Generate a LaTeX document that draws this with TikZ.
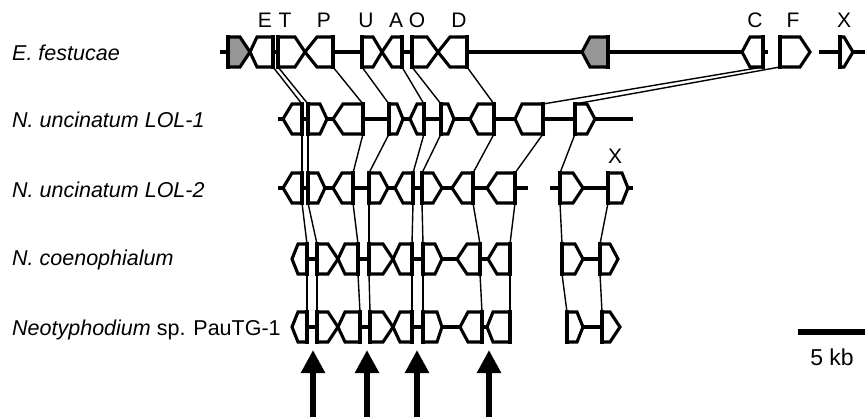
\documentclass[tikz,border=0pt]{standalone}
\usepackage{fontspec}
\setmainfont{Liberation Sans}
\usetikzlibrary{arrows.meta}
\definecolor{greyfill}{RGB}{150,150,150}
\newcommand\gene[6][white]{%
  \draw[genebox,fill=#1] (#4,#3-15) -- (#5,#3-15) -- (#6,#3) -- (#5,#3+15) -- (#4,#3+15) -- cycle;
  \draw[flatbar] (#4,#3-16.6) -- (#4,#3+16.6);
  \coordinate (#2t) at (#4,#3-15);
  \coordinate (#2b) at (#4,#3+15);
}
\begin{document}
\begin{tikzpicture}[x=1pt,y=-1pt,
  genebox/.style={draw=black,line width=3.1pt,line join=miter},
  flatbar/.style={line width=4.4pt},
  backbone/.style={line width=3.1pt},
  homol/.style={line width=1.4pt},
  toplbl/.style={inner sep=0pt,font=\fontsize{21}{25}\selectfont,anchor=base},
  species/.style={inner sep=0pt,font=\fontsize{21.5}{25}\selectfont\itshape,anchor=base west},
  bigarrow/.style={line width=5.5pt,-{Triangle[width=23pt,length=23pt]}}]
\useasboundingbox (0,0) rectangle (865,416);
% species labels
\node[species] (l1) at (12,60) {E. festucae};
\node[species] (l2) at (12,127) {N. uncinatum LOL-1};
\node[species] (l3) at (12,197) {N. uncinatum LOL-2};
\node[species] (l4) at (12,265) {N. coenophialum};
\node[species] (l5) at (12,335) {Neotyphodium {\upshape sp. PauTG-1}};
% gene labels
\node[toplbl] (tE) at (265,27) {E};
\node[toplbl] (tT) at (285,27) {T};
\node[toplbl] (tP) at (324,27) {P};
\node[toplbl] (tU) at (366,27) {U};
\node[toplbl] (tA) at (396,27) {A};
\node[toplbl] (tO) at (417,27) {O};
\node[toplbl] (tD) at (459,27) {D};
\node[toplbl] (tC) at (755,27) {C};
\node[toplbl] (tF) at (793,27) {F};
\node[toplbl] (tX) at (844,27) {X};
\node[toplbl] (tX3) at (615,163) {X};
% backbones
\draw[backbone] (220,52) -- (768,52);
\draw[backbone] (819,52) -- (865,52);
\draw[backbone] (278,119) -- (633,119);
\draw[backbone] (278,188) -- (528,188);
\draw[backbone] (550,188) -- (633,188);
\draw[backbone] (292,259) -- (510,259);
\draw[backbone] (562,259) -- (618,259);
\draw[backbone] (292,327) -- (510,327);
\draw[backbone] (567,327) -- (620,327);
% row 1
\gene[greyfill]{r1g}{52}{228}{240}{250}
\gene{r1E}{52}{273}{257}{250}
\gene{r1T}{52}{278}{295}{305}
\gene{r1P}{52}{333}{317}{305}
\gene{r1U}{52}{362}{373}{382}
\gene{r1A}{52}{402}{392}{382}
\gene{r1O}{52}{412}{427}{438}
\gene{r1D}{52}{467}{450}{438}
\gene[greyfill]{r1h}{52}{608}{590}{582}
\gene{r1C}{52}{763}{750}{742}
\gene{r1F}{52}{780}{800}{810}
\gene{r1X}{52}{840}{844}{853}
% row 2
\gene{r2E}{119}{302}{292}{283}
\gene{r2T}{119}{308}{320}{327}
\gene{r2P}{119}{363}{343}{333}
\gene{r2U}{119}{389}{397}{403}
\gene{r2A}{119}{424}{417}{410}
\gene{r2O}{119}{441}{448}{454}
\gene{r2D}{119}{494}{478}{470}
\gene{r2C}{119}{543}{522}{515}
\gene{r2F}{119}{575}{587}{595}
% row 3
\gene{r3E}{188}{302}{292}{283}
\gene{r3T}{188}{308}{318}{325}
\gene{r3P}{188}{353}{342}{333}
\gene{r3U}{188}{369}{380}{388}
\gene{r3A}{188}{413}{403}{395}
\gene{r3O}{188}{422}{433}{442}
\gene{r3D}{188}{473}{462}{452}
\gene{r3C}{188}{515}{497}{487}
\gene{r3F}{188}{560}{573}{583}
\gene{r3X}{188}{608}{622}{628}
% row 4
\gene{r4E}{259}{307}{298}{292}
\gene{r4T}{259}{317}{328}{338}
\gene{r4P}{259}{358}{345}{338}
\gene{r4U}{259}{369}{383}{393}
\gene{r4A}{259}{412}{400}{393}
\gene{r4O}{259}{423}{435}{442}
\gene{r4D}{259}{480}{467}{457}
\gene{r4C}{259}{510}{497}{488}
\gene{r4F}{259}{562}{575}{583}
\gene{r4X}{259}{600}{610}{618}
% row 5
\gene{r5E}{327}{307}{298}{292}
\gene{r5T}{327}{317}{328}{338}
\gene{r5P}{327}{360}{345}{338}
\gene{r5U}{327}{370}{383}{393}
\gene{r5A}{327}{412}{400}{393}
\gene{r5O}{327}{423}{437}{442}
\gene{r5D}{327}{482}{468}{460}
\gene{r5C}{327}{510}{493}{487}
\gene{r5F}{327}{567}{577}{583}
\gene{r5X}{327}{602}{610}{620}
% homology connectors
\foreach \g in {E,T,P,U,A,O,D,C,F} {
  \draw[homol] (r1\g b) -- (r2\g t);
  \draw[homol] (r2\g b) -- (r3\g t);
}
\foreach \g in {E,T,P,U,A,O,D,C,F,X} {
  \draw[homol] (r3\g b) -- (r4\g t);
  \draw[homol] (r4\g b) -- (r5\g t);
}
% arrows
\foreach \i/\x in {1/313,2/367,3/417,4/489} {
  \coordinate (a\i t) at (\x,350);
  \coordinate (a\i b) at (\x,418);
  \draw[bigarrow] (a\i b) -- (a\i t);
}
% scale bar
\coordinate (sb1) at (798,332);
\coordinate (sb2) at (866,332);
\draw[line width=5.5pt] (sb1) -- (sb2);
\node[inner sep=0pt,font=\fontsize{23}{27}\selectfont,anchor=base] (sbl) at (832,365) {5 kb};
\end{tikzpicture}
\end{document}
